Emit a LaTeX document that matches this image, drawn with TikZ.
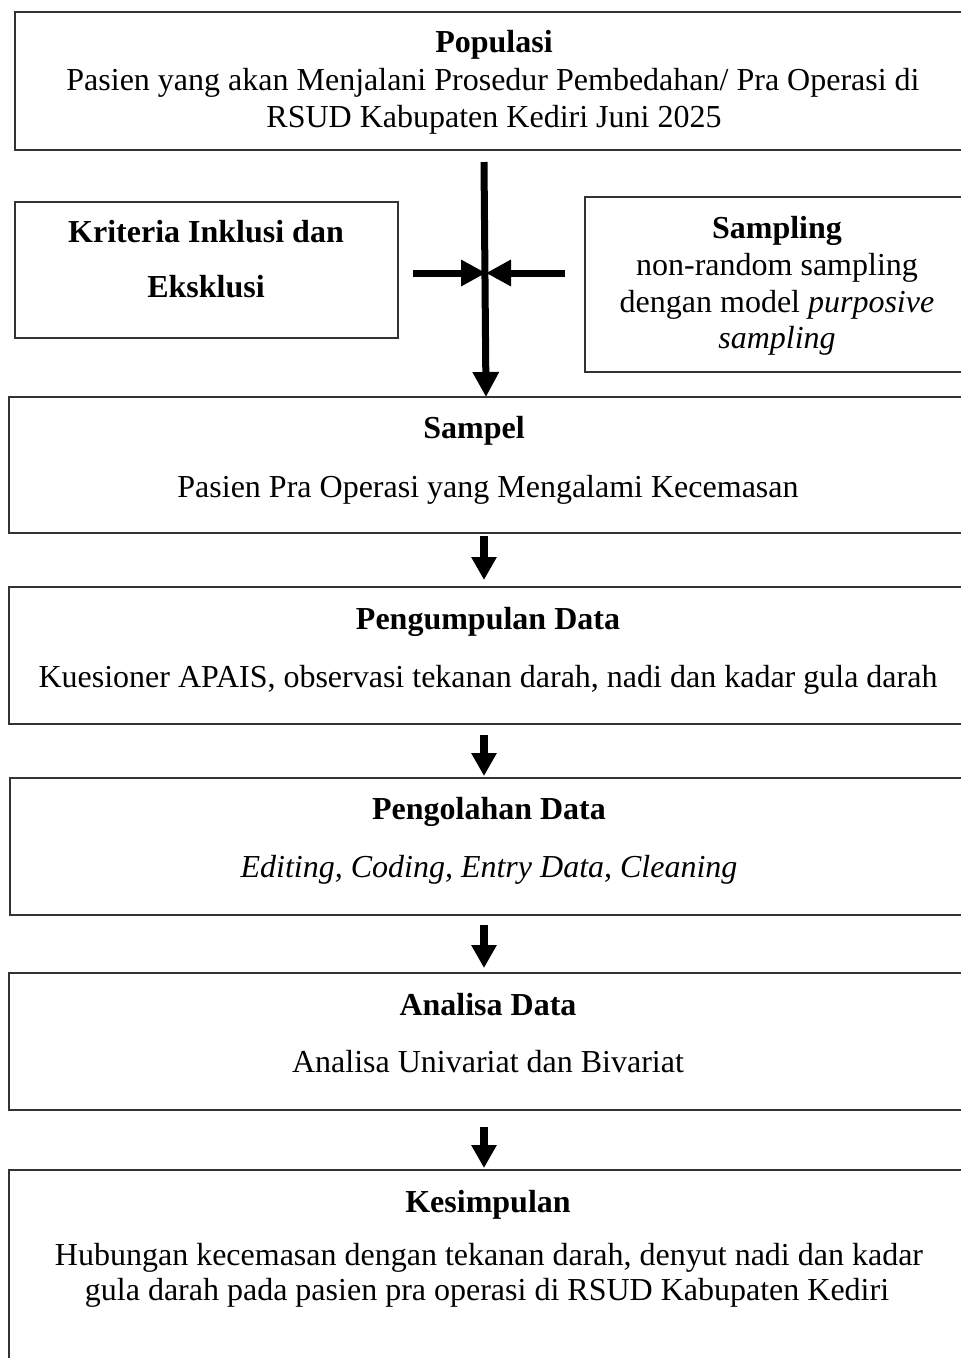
\documentclass[tikz,border=0pt]{standalone}
\usepackage{fontspec}
\setmainfont{Liberation Serif}
\usetikzlibrary{arrows.meta}
\begin{document}
\begin{tikzpicture}[x=1pt,y=-1pt,
  box/.style={draw=black!80, line width=1.3pt, fill=none, anchor=north west, inner sep=0pt, outer sep=0pt},
  txt/.style={anchor=base, inner sep=0pt, font=\fontsize{32}{38}\selectfont},
  btxt/.style={txt, font=\fontsize{32}{38}\selectfont\bfseries},
  bigarrow/.style={line width=7pt, -{Triangle[width=25pt,length=25pt]}},
  smallarrow/.style={line width=8pt, -{Triangle[width=24pt,length=23pt]}}
]
\useasboundingbox (0,0) rectangle (961,1358);
\clip (0,0) rectangle (961,1358);
\fill[white] (0,0) rectangle (961,1358);

% boxes
\node[box, minimum width=960pt, minimum height=138pt] (pop) at (15,12) {};
\node[box, minimum width=383pt, minimum height=136pt] (krit) at (15,202) {};
\node[box, minimum width=390pt, minimum height=175pt] (smp) at (585,197) {};
\node[box, minimum width=966pt, minimum height=136pt] (sampel) at (9,397) {};
\node[box, minimum width=966pt, minimum height=137pt] (pd) at (9,587) {};
\node[box, minimum width=966pt, minimum height=137pt] (po) at (10,778) {};
\node[box, minimum width=966pt, minimum height=137pt] (ad) at (9,973) {};
\node[box, minimum width=966pt, minimum height=220pt] (kes) at (9,1170) {};

% texts
\node[btxt] (t1) at (494,52) {Populasi};
\node[txt] (t2) at (493,90) {Pasien yang akan Menjalani Prosedur Pembedahan/ Pra Operasi di};
\node[txt] (t3) at (494,127) {RSUD Kabupaten Kediri Juni 2025};

\node[btxt] (k1) at (206,242) {Kriteria Inklusi dan};
\node[btxt] (k2) at (206,297) {Eksklusi};

\node[btxt] (s1) at (777,238) {Sampling};
\node[txt] (s2) at (777,275) {non-random sampling};
\node[txt] (s3) at (777,312) {dengan model \textit{purposive}};
\node[txt] (s4) at (777,348) {\textit{sampling}};

\node[btxt] (p1) at (474,438) {Sampel};
\node[txt] (p2) at (488,497) {Pasien Pra Operasi yang Mengalami Kecemasan};

\node[btxt] (d1) at (488,629) {Pengumpulan Data};
\node[txt] (d2) at (488,687) {Kuesioner APAIS, observasi tekanan darah, nadi dan kadar gula darah};

\node[btxt] (o1) at (489,819) {Pengolahan Data};
\node[txt] (o2) at (489,877) {\textit{Editing, Coding, Entry Data, Cleaning}};

\node[btxt] (a1) at (488,1015) {Analisa Data};
\node[txt] (a2) at (488,1072) {Analisa Univariat dan Bivariat};

\node[btxt] (e1) at (488,1212) {Kesimpulan};
\node[txt] (e2) at (489,1265) {Hubungan kecemasan dengan tekanan darah, denyut nadi dan kadar};
\node[txt] (e3) at (487,1300) {gula darah pada pasien pra operasi di RSUD Kabupaten Kediri};

% connectors
\coordinate (top) at (484,162);
\coordinate (mid) at (486,273);
\coordinate (kl) at (413,273);
\coordinate (kr) at (565,273);
\coordinate (col) at (484,0);
\draw[bigarrow] (top) -- (sampel.north -| mid);
\draw[bigarrow] (kl) -- (mid);
\draw[bigarrow] (kr) -- (mid);
\draw[smallarrow, shorten <=3pt, shorten >=7pt] (sampel.south -| col) -- (pd.north -| col);
\draw[smallarrow, shorten <=11pt, shorten >=2pt] (pd.south -| col) -- (po.north -| col);
\draw[smallarrow, shorten <=10pt, shorten >=5pt] (po.south -| col) -- (ad.north -| col);
\draw[smallarrow, shorten <=17pt, shorten >=2pt] (ad.south -| col) -- (kes.north -| col);
\end{tikzpicture}
\end{document}
